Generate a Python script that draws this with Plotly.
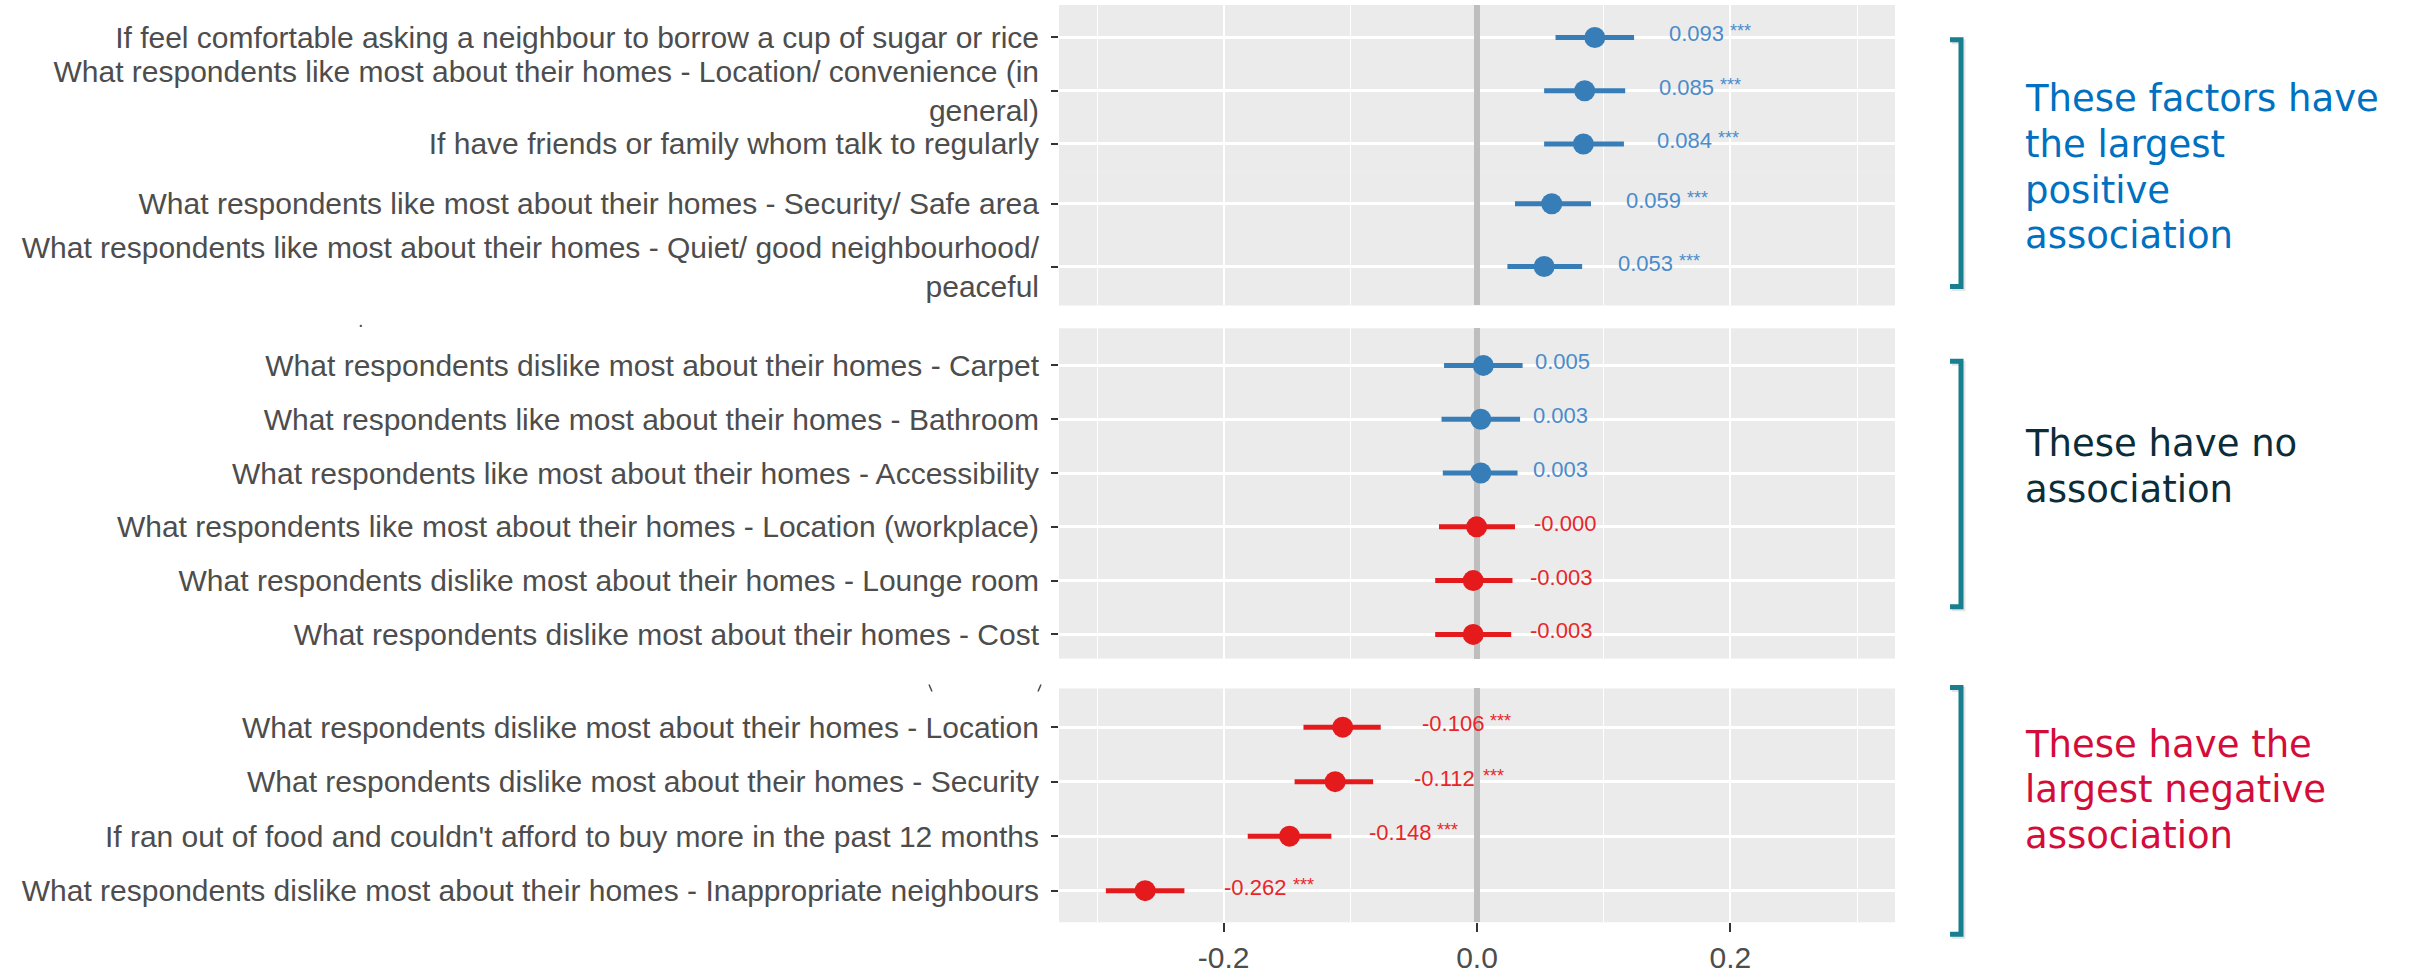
import plotly.graph_objects as go

W, H = 2413, 974

# ---------------- data ----------------
p1a_labels = [
    "If feel comfortable asking a neighbour to borrow a cup of sugar or rice",
    "What respondents like most about their homes - Location/ convenience (in<br>general)",
    "If have friends or family whom talk to regularly",
]
p1a_est = [0.093, 0.085, 0.084]
p1a_lo = [0.062, 0.053, 0.053]
p1a_hi = [0.124, 0.117, 0.116]
p1a_sig = ["***", "***", "***"]

p1b_labels = [
    "What respondents like most about their homes - Security/ Safe area",
    "What respondents like most about their homes - Quiet/ good neighbourhood/<br>peaceful",
]
p1b_est = [0.059, 0.053]
p1b_lo = [0.030, 0.024]
p1b_hi = [0.090, 0.083]
p1b_sig = ["***", "***"]

p2_labels = [
    "What respondents dislike most about their homes - Carpet",
    "What respondents like most about their homes - Bathroom",
    "What respondents like most about their homes - Accessibility",
    "What respondents like most about their homes - Location (workplace)",
    "What respondents dislike most about their homes - Lounge room",
    "What respondents dislike most about their homes - Cost",
]
p2_est = [0.005, 0.003, 0.003, -0.0003, -0.003, -0.003]
p2_lo = [-0.026, -0.028, -0.027, -0.030, -0.033, -0.033]
p2_hi = [0.036, 0.034, 0.032, 0.030, 0.028, 0.027]
p2_sig = ["", "", "", "", "", ""]

p3_labels = [
    "What respondents dislike most about their homes - Location",
    "What respondents dislike most about their homes - Security",
    "If ran out of food and couldn't afford to buy more in the past 12 months",
    "What respondents dislike most about their homes - Inappropriate neighbours",
]
p3_est = [-0.106, -0.112, -0.148, -0.262]
p3_lo = [-0.137, -0.144, -0.181, -0.293]
p3_hi = [-0.076, -0.082, -0.115, -0.231]
p3_sig = ["***", "***", "***", "***"]

x_ticks = [-0.2, 0.0, 0.2]
x_tick_text = ["-0.2", "0.0", "0.2"]
x_minor = [-0.3, -0.1, 0.1, 0.3]

group_text = [
    (["These factors have", "the largest", "positive", "association"], "#0070C0"),
    (["These have no", "association"], "#0B2D3A"),
    (["These have the", "largest negative", "association"], "#D40C3A"),
]

# ---------------- layout geometry (pixels) ----------------
PX_LEFT, PX_RIGHT = 1059, 1895
panels = [
    # labels, est, lo, hi, sig, top_px, bottom_px, top_gap, bottom_gap
    (p1a_labels, p1a_est, p1a_lo, p1a_hi, p1a_sig, 5, 172, 0.61, 0.51),
    (p1b_labels, p1b_est, p1b_lo, p1b_hi, p1b_sig, 172, 307, 0.52, 0.62),
    (p2_labels, p2_est, p2_lo, p2_hi, p2_sig, 330, 662, 0.69, 0.45),
    (p3_labels, p3_est, p3_lo, p3_hi, p3_sig, 692, 927, 0.71, 0.58),
]
BLUE, RED = "#377EB8", "#E41A1C"
BLUE_T, RED_T = "#4A8CCB", "#E8262A"
GREY_TXT = "#4D4D4D"
LABEL_FONT = "Arial, Liberation Sans, sans-serif"
NUM_SIZE, STAR_SIZE = 22, 18
CHAR_W = {".": 0.278, "-": 0.333}

def px(x):
    return x / W

def py(y):
    return 1 - y / H

def text_width(s, size):
    return sum(CHAR_W.get(c, 0.556) for c in s) * size

fig = go.Figure()
annotations = []
shapes = []
layout_axes = {}

for i, (labels, est, lo, hi, sig, top, bot, tg, bg) in enumerate(panels, start=1):
    xa = "x" if i == 1 else f"x{i}"
    ya = "y" if i == 1 else f"y{i}"
    for lab, e, l, h, s in zip(labels, est, lo, hi, sig):
        col = BLUE if e > 0 else RED
        tcol = BLUE_T if e > 0 else RED_T
        fig.add_trace(go.Scatter(
            x=[e], y=[lab], mode="markers", xaxis=xa, yaxis=ya,
            marker=dict(size=21, color=col, line=dict(width=0)),
            error_x=dict(type="data", symmetric=False, array=[h - e], arrayminus=[e - l],
                         color=col, thickness=5, width=0),
            showlegend=False, hoverinfo="skip",
        ))
        num = f"{e:.3f}"
        shift = 50 + (22 if s else 0) + (5 if e < 0 else 0)
        annotations.append(dict(
            x=e, y=lab, xref=xa, yref=ya, text=num, showarrow=False,
            xanchor="left", yanchor="middle", xshift=shift, yshift=3.5,
            font=dict(family=LABEL_FONT, size=NUM_SIZE, color=tcol),
        ))
        if s:
            annotations.append(dict(
                x=e, y=lab, xref=xa, yref=ya, text=s, showarrow=False,
                xanchor="left", yanchor="middle",
                xshift=shift + text_width(num, NUM_SIZE) + 6, yshift=6,
                font=dict(family=LABEL_FONT, size=STAR_SIZE, color=tcol),
            ))
    n = len(labels)
    bottom_panel = (i == len(panels))
    layout_axes["xaxis" if i == 1 else f"xaxis{i}"] = dict(
        domain=[px(PX_LEFT), px(PX_RIGHT)], range=[-0.33, 0.33], anchor=ya,
        tickvals=x_ticks, ticktext=x_tick_text,
        showticklabels=bottom_panel, ticks="outside" if bottom_panel else "",
        ticklen=9, tickwidth=2, tickcolor="#333333",
        tickfont=dict(family=LABEL_FONT, size=30, color=GREY_TXT),
        showgrid=True, gridcolor="white", gridwidth=2.2,
        minor=dict(tickvals=x_minor, showgrid=True, gridcolor="white", gridwidth=1.4),
        zeroline=True, zerolinecolor="#BEBEBE", zerolinewidth=6,
        showline=False, fixedrange=True,
    )
    layout_axes["yaxis" if i == 1 else f"yaxis{i}"] = dict(
        domain=[py(bot), py(top)], anchor=xa, type="category",
        categoryorder="array", categoryarray=labels,
        range=[n - 1 + bg, -tg],
        ticks="outside", ticklen=7, tickwidth=2, tickcolor="#333333",
        ticklabelstandoff=6,
        tickfont=dict(family=LABEL_FONT, size=30, color=GREY_TXT),
        showgrid=True, gridcolor="white", gridwidth=3,
        zeroline=False, showline=False, fixedrange=True,
    )

# brackets on the right
brackets = [(40, 288), (363, 610), (691, 939)]
for top, bot in brackets:
    xl, xv = 1950, 1961
    shapes.append(dict(
        type="path", xref="paper", yref="paper",
        path=f"M {px(xl+2)},{py(top+2)} L {px(xv+2)},{py(top+2)} L {px(xv+2)},{py(bot+2)} L {px(xl+2)},{py(bot+2)}",
        line=dict(color="rgba(0,0,0,0.10)", width=5),
    ))
    shapes.append(dict(
        type="path", xref="paper", yref="paper",
        path=f"M {px(xl)},{py(top)} L {px(xv)},{py(top)} L {px(xv)},{py(bot)} L {px(xl)},{py(bot)}",
        line=dict(color="#177F8E", width=5),
    ))

# group descriptions
line_centres = [[98, 144, 190, 236], [445, 491], [747, 793, 839]]
for (lines, col), ys in zip(group_text, line_centres):
    for t, yc in zip(lines, ys):
        annotations.append(dict(
            x=px(2023), y=py(yc + 1), xref="paper", yref="paper", text=t, showarrow=False,
            xanchor="left", yanchor="middle",
            font=dict(family="DejaVu Sans, Verdana, sans-serif", size=37, color=col),
        ))

# stray cropping remnants (tails of cut-off glyphs)
annotations.append(dict(x=px(361), y=py(322), xref="paper", yref="paper", text=".",
                        showarrow=False, xanchor="center", yanchor="middle",
                        font=dict(family=LABEL_FONT, size=20, color=GREY_TXT)))
for x0, x1 in [(929, 932), (1041, 1038)]:
    shapes.append(dict(type="line", xref="paper", yref="paper",
                       x0=px(x0), x1=px(x1), y0=py(688), y1=py(695),
                       line=dict(color=GREY_TXT, width=1.5)))

fig.update_layout(
    width=W, height=H, autosize=False,
    margin=dict(l=0, r=0, t=0, b=0),
    paper_bgcolor="white", plot_bgcolor="#EBEBEB",
    annotations=annotations, shapes=shapes,
    **layout_axes,
)

fig.write_html("out.html", config={"displayModeBar": False},
               post_script="document.body.style.margin='0';document.body.style.overflow='hidden';")
